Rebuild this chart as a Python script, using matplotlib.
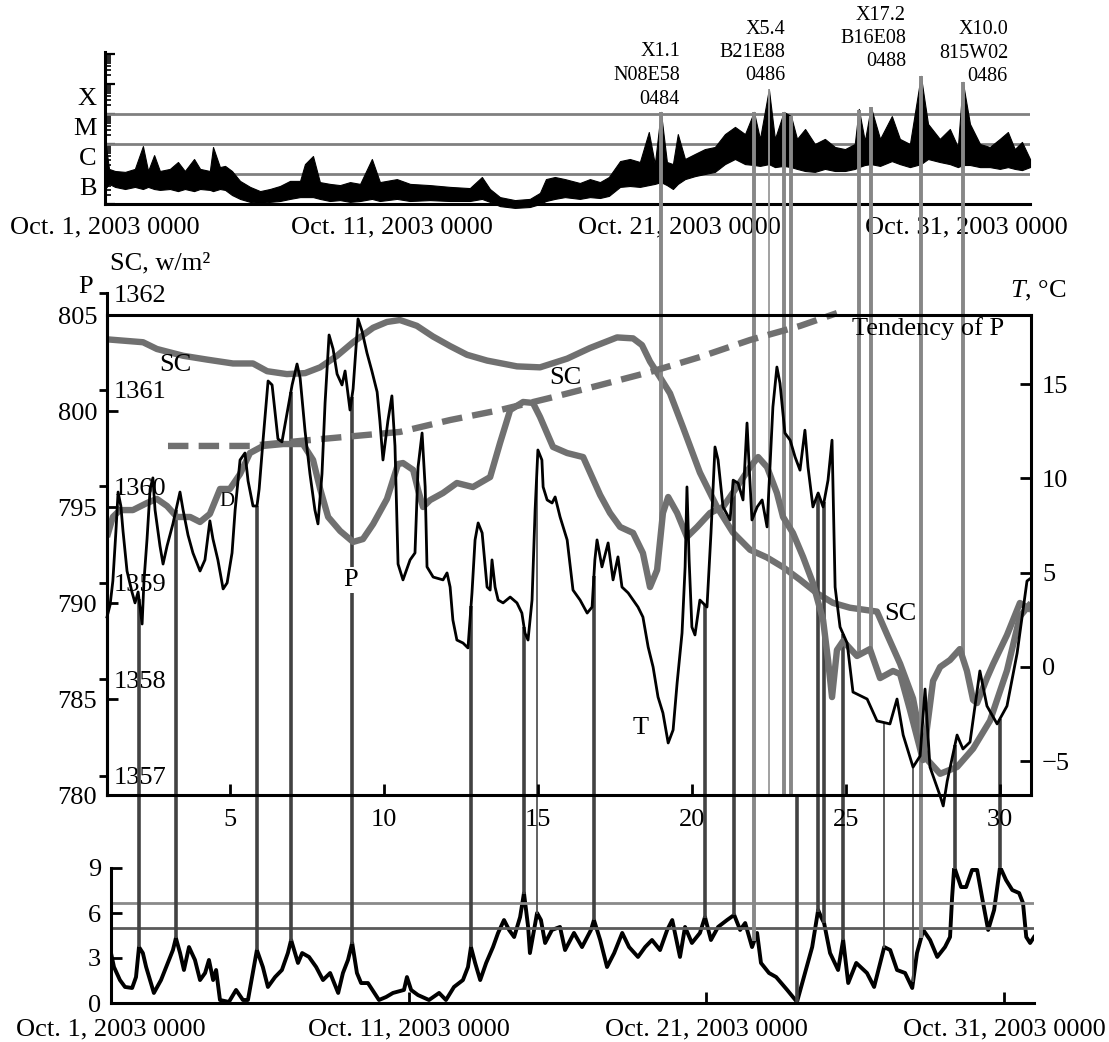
import numpy as np
import matplotlib.pyplot as plt
from matplotlib.lines import Line2D
from matplotlib.ticker import LogLocator, NullFormatter

plt.rcParams['font.family'] = ['Liberation Serif', 'DejaVu Serif']
plt.rcParams['mathtext.fontset'] = 'custom'
plt.rcParams['mathtext.rm'] = 'Liberation Serif'
plt.rcParams['mathtext.it'] = 'Liberation Serif:italic'

# ---- top panel: GOES X-ray flux band (log10 W/m^2), days of October ----
top_day = [1.00, 1.14, 1.35, 1.70, 2.04, 2.32, 2.50, 2.71, 2.91, 3.26,
           3.54, 3.78, 4.10, 4.31, 4.65, 4.76, 5.00, 5.18, 5.42, 5.70,
           6.05, 6.40, 6.74, 7.09, 7.44, 7.79, 7.96, 8.24, 8.48, 8.83,
           9.18, 9.53, 9.88, 10.29, 10.57, 11.16, 11.62, 12.31, 13.01, 13.70,
           14.12, 14.40, 14.75, 15.27, 15.79, 16.14, 16.35, 16.66, 17.01, 17.53,
           17.88, 18.23, 18.54, 18.93, 19.27, 19.62, 19.93, 20.14, 20.35, 20.56,
           20.77, 20.94, 21.19, 21.54, 21.88, 22.23, 22.58, 22.93, 23.28, 23.59,
           23.80, 24.11, 24.32, 24.63, 24.88, 25.09, 25.37, 25.71, 26.06, 26.41,
           26.76, 27.10, 27.24, 27.45, 27.66, 27.98, 28.39, 28.67, 29.02, 29.40,
           29.65, 30.06, 30.41, 30.69, 30.86, 31.11, 31.46, 31.80, 32.15, 32.43,
           32.67, 32.92, 33.20]
top_lo = [-6.50, -6.33, -6.43, -6.50, -6.43, -6.50, -6.43, -6.50, -6.53, -6.50,
          -6.57, -6.50, -6.57, -6.50, -6.53, -6.57, -6.50, -6.53, -6.70, -6.83,
          -6.93, -6.97, -6.93, -6.90, -6.83, -6.77, -6.77, -6.77, -6.83, -6.90,
          -6.87, -6.93, -6.90, -6.83, -6.90, -6.83, -6.90, -6.87, -6.90, -6.90,
          -6.83, -6.93, -7.07, -7.13, -7.10, -7.00, -6.90, -6.83, -6.77, -6.83,
          -6.77, -6.80, -6.73, -6.43, -6.40, -6.43, -6.37, -6.33, -6.27, -6.37,
          -6.50, -6.33, -6.17, -6.07, -6.00, -5.93, -5.67, -5.50, -5.67, -5.70,
          -5.73, -5.67, -5.77, -5.73, -5.77, -5.83, -5.90, -5.93, -5.83, -5.90,
          -5.90, -5.83, -5.77, -5.70, -5.67, -5.73, -5.57, -5.67, -5.77, -5.67,
          -5.50, -5.60, -5.67, -5.77, -5.70, -5.70, -5.77, -5.77, -5.83, -5.77,
          -5.83, -5.87, -5.77]
top_hi = [-4.83, -5.83, -5.90, -5.93, -5.83, -5.07, -5.90, -5.37, -5.90, -5.83,
          -5.60, -5.90, -5.50, -5.83, -5.90, -5.10, -5.77, -5.73, -5.90, -6.23,
          -6.43, -6.57, -6.50, -6.40, -6.23, -6.23, -5.67, -5.40, -6.27, -6.33,
          -6.37, -6.27, -6.33, -5.50, -6.27, -6.17, -6.33, -6.37, -6.43, -6.47,
          -6.10, -6.50, -6.77, -6.87, -6.83, -6.63, -6.17, -6.10, -6.17, -6.30,
          -6.17, -6.27, -6.10, -5.57, -5.50, -5.60, -4.60, -5.67, -3.93, -5.60,
          -5.67, -4.67, -5.50, -5.33, -5.17, -5.10, -4.67, -4.43, -4.67, -3.93,
          -4.83, -3.17, -4.83, -3.93, -4.07, -4.83, -4.50, -5.00, -4.83, -5.10,
          -5.17, -5.00, -3.83, -4.90, -3.77, -4.83, -4.07, -4.83, -5.00, -2.73,
          -4.33, -4.83, -4.50, -5.10, -2.93, -4.33, -5.00, -5.10, -4.83, -4.60,
          -5.17, -4.93, -5.50]
class_levels = [1e-6, 1e-5, 1e-4]
class_names = ['B', 'C', 'M', 'X']
class_mid = [10**-6.5, 10**-5.5, 10**-4.5, 10**-3.5]
date_labels = ['Oct. 1, 2003 0000', 'Oct. 11, 2003 0000',
               'Oct. 21, 2003 0000', 'Oct. 31, 2003 0000']
date_days = [1, 11, 21, 31]

flare_text = [['X1.1', 'N08E58', '0484'], ['X5.4', 'B21E88', '0486'],
              ['X17.2', 'B16E08', '0488'], ['X10.0', '815W02', '0486']]

# ---- middle panel ----
t_day = [1.00, 1.10, 1.19, 1.29, 1.36, 1.45, 1.52, 1.65, 1.81, 1.91,
         2.01, 2.14, 2.20, 2.30, 2.40, 2.49, 2.56, 2.72, 2.82, 2.95,
         3.14, 3.37, 3.47, 3.63, 3.79, 4.02, 4.18, 4.34, 4.44, 4.60,
         4.77, 4.90, 5.06, 5.16, 5.32, 5.48, 5.58, 5.74, 5.87, 5.94,
         6.07, 6.23, 6.36, 6.45, 6.55, 6.68, 6.84, 7.01, 7.17, 7.27,
         7.43, 7.59, 7.75, 7.85, 7.98, 8.08, 8.21, 8.34, 8.47, 8.63,
         8.73, 8.89, 8.99, 9.15, 9.28, 9.44, 9.60, 9.77, 9.86, 9.96,
         10.12, 10.25, 10.35, 10.45, 10.61, 10.84, 11.00, 11.10, 11.23, 11.33,
         11.39, 11.59, 11.91, 12.04, 12.14, 12.23, 12.36, 12.56, 12.72, 12.85,
         12.95, 13.05, 13.18, 13.34, 13.44, 13.50, 13.60, 13.70, 13.86, 14.09,
         14.31, 14.47, 14.57, 14.67, 14.80, 14.90, 14.99, 15.12, 15.16, 15.29,
         15.45, 15.55, 15.71, 15.94, 16.13, 16.36, 16.59, 16.75, 16.84, 16.91,
         17.07, 17.27, 17.43, 17.59, 17.72, 17.92, 18.24, 18.40, 18.57, 18.73,
         18.89, 19.05, 19.22, 19.38, 19.51, 19.67, 19.77, 19.83, 19.90, 19.99,
         20.09, 20.25, 20.48, 20.61, 20.74, 20.84, 21.00, 21.23, 21.33, 21.49,
         21.65, 21.78, 21.85, 21.94, 22.11, 22.27, 22.43, 22.62, 22.75, 22.85,
         23.01, 23.18, 23.34, 23.50, 23.66, 23.76, 23.92, 24.09, 24.25, 24.41,
         24.54, 24.64, 24.80, 25.03, 25.22, 25.68, 26.00, 26.42, 26.65, 26.85,
         27.17, 27.40, 27.56, 27.72, 28.05, 28.15, 28.28, 28.60, 28.79, 29.02,
         29.34, 29.57, 29.90, 30.22, 30.55, 30.87, 31.00]
t_val = [2.65, 3.29, 4.56, 7.21, 9.28, 8.54, 7.21, 5.09, 3.98, 3.40,
         3.98, 2.28, 4.56, 6.79, 9.44, 10.03, 8.33, 6.42, 5.46, 6.42,
         7.59, 9.28, 8.33, 7.00, 6.05, 5.09, 5.68, 7.75, 6.79, 5.68,
         4.14, 4.46, 6.05, 8.33, 10.98, 11.35, 9.87, 8.54, 8.54, 9.44,
         12.10, 15.17, 14.96, 13.63, 12.10, 11.94, 13.42, 14.96, 16.07, 15.33,
         12.52, 10.24, 8.33, 7.59, 10.24, 14.00, 17.61, 16.87, 15.54, 14.96,
         15.70, 13.63, 14.75, 18.46, 17.82, 16.66, 15.70, 14.59, 13.05, 10.98,
         13.05, 14.38, 11.72, 5.46, 4.62, 5.68, 6.05, 10.61, 12.41, 9.55,
         5.31, 4.77, 4.62, 4.99, 4.24, 2.49, 1.43, 1.27, 1.01, 3.93,
         6.74, 7.64, 7.11, 4.24, 4.08, 5.68, 4.24, 3.55, 3.40, 3.71,
         3.40, 2.86, 1.80, 1.43, 3.55, 8.33, 11.51, 10.98, 9.55, 8.86,
         8.70, 9.02, 7.96, 6.74, 4.08, 3.55, 2.86, 3.18, 5.68, 6.74,
         5.31, 6.58, 4.62, 5.84, 4.24, 3.93, 3.18, 2.65, 1.06, 0.00,
         -1.59, -2.44, -4.03, -3.34, -0.85, 1.80, 5.31, 9.55, 5.68, 2.12,
         1.70, 3.55, 3.18, 7.11, 11.67, 10.98, 8.49, 7.80, 9.91, 9.75,
         8.86, 12.94, 10.61, 7.80, 8.49, 8.86, 7.43, 13.79, 15.91, 15.05,
         12.41, 12.03, 11.14, 10.44, 12.56, 10.61, 8.49, 9.23, 8.49, 9.91,
         12.03, 4.24, 2.12, 1.27, -1.33, -1.70, -2.86, -3.02, -1.70, -3.61,
         -5.31, -4.72, -1.17, -5.31, -6.84, -7.37, -6.05, -3.61, -4.35, -3.98,
         -0.21, -2.07, -3.02, -2.07, 0.74, 4.56, 4.72]

p_day = [1.00, 1.19, 1.42, 1.84, 2.30, 2.62, 2.95, 3.27, 3.70, 4.02,
         4.34, 4.67, 4.99, 5.32, 5.64, 6.07, 6.72, 7.36, 7.69, 7.92,
         8.18, 8.57, 8.99, 9.31, 9.64, 10.09, 10.45, 10.61, 10.94, 11.10,
         11.26, 11.49, 11.91, 12.36, 12.88, 13.44, 13.76, 14.09, 14.51, 14.83,
         15.06, 15.48, 15.94, 16.46, 17.01, 17.33, 17.66, 18.08, 18.40, 18.63,
         18.86, 19.05, 19.22, 19.51, 19.83, 20.16, 20.58, 21.00, 21.45, 21.88,
         22.14, 22.43, 22.75, 22.95, 23.27, 23.60, 23.92, 24.25, 24.41, 24.54,
         24.70, 24.90, 25.35, 25.77, 26.10, 26.52, 26.75, 27.07, 27.40, 27.49,
         27.82, 28.05, 28.37, 28.69, 28.92, 29.12, 29.25, 29.57, 29.77, 30.22,
         30.64, 31.00]
p_val = [793.44, 794.48, 794.84, 794.84, 795.21, 795.42, 795.05, 794.48, 794.48, 794.22,
         794.64, 795.94, 795.94, 796.72, 797.81, 798.18, 798.28, 798.28, 797.45, 795.94,
         794.48, 793.75, 793.18, 793.33, 794.11, 795.42, 797.24, 797.29, 796.93, 795.89,
         795.00, 795.36, 795.73, 796.25, 796.04, 796.56, 798.33, 800.05, 800.47, 800.42,
         799.69, 798.13, 797.81, 797.60, 795.63, 794.69, 793.96, 793.65, 792.60, 790.83,
         791.72, 794.69, 795.52, 794.69, 793.44, 793.96, 794.69, 795.00, 796.04, 797.08,
         797.60, 797.08, 795.73, 794.48, 793.65, 792.40, 791.04, 789.11, 787.03, 785.10,
         787.55, 788.02, 787.24, 787.60, 786.09, 786.46, 786.30, 784.43, 782.40, 781.82,
         785.94, 786.67, 787.03, 787.60, 786.46, 784.95, 784.79, 786.09, 786.82, 788.33,
         790.00, 789.64]

sc_day = [1.00, 2.17, 2.62, 3.47, 4.25, 5.09, 5.74, 6.20, 6.84, 7.43,
          7.92, 8.47, 8.99, 9.64, 10.09, 10.51, 11.06, 11.58, 12.14, 12.69,
          13.34, 14.31, 15.06, 15.94, 16.68, 17.56, 18.08, 18.37, 18.63, 18.95,
          19.28, 19.70, 20.25, 20.81, 21.32, 21.88, 22.43, 22.95, 23.50, 24.05,
          24.57, 25.12, 26.00, 26.33, 26.75, 27.17, 27.40, 27.62, 28.05, 28.60,
          29.12, 29.67, 30.22, 30.64, 31.00]
sc_val = [1361.52, 1361.49, 1361.42, 1361.35, 1361.31, 1361.27, 1361.27, 1361.19, 1361.16, 1361.17,
          1361.23, 1361.35, 1361.49, 1361.64, 1361.70, 1361.72, 1361.66, 1361.55, 1361.45, 1361.36,
          1361.30, 1361.24, 1361.23, 1361.32, 1361.43, 1361.54, 1361.53, 1361.46, 1361.29, 1361.13,
          1360.96, 1360.61, 1360.14, 1359.78, 1359.52, 1359.34, 1359.26, 1359.16, 1359.03, 1358.89,
          1358.79, 1358.74, 1358.70, 1358.46, 1358.16, 1357.80, 1357.42, 1357.17, 1357.02, 1357.09,
          1357.28, 1357.57, 1358.09, 1358.65, 1358.79]

tend_day = [2.98, 5.64, 7.27, 10.51, 12.14, 13.76, 15.38, 17.01, 18.63, 20.25, 21.88, 23.50, 24.70]
tend_val = [798.18, 798.18, 798.44, 798.91, 799.53, 800.05, 800.68, 801.35, 802.03, 802.81,
            803.70, 804.43, 805.10]

# ---- bottom panel ----
k_day = [1.00, 1.10, 1.30, 1.47, 1.71, 1.84, 1.94, 2.07, 2.18, 2.44,
         2.68, 2.91, 3.08, 3.18, 3.32, 3.45, 3.62, 3.82, 3.99, 4.16,
         4.29, 4.43, 4.53, 4.66, 4.96, 5.20, 5.43, 5.60, 5.80, 5.90,
         6.10, 6.27, 6.51, 6.74, 6.94, 7.05, 7.18, 7.28, 7.42, 7.65,
         7.89, 8.12, 8.36, 8.63, 8.79, 8.96, 9.10, 9.26, 9.40, 9.63,
         10.00, 10.24, 10.47, 10.84, 10.94, 11.08, 11.31, 11.68, 12.02, 12.25,
         12.52, 12.82, 12.99, 13.09, 13.23, 13.40, 13.60, 13.83, 14.00, 14.20,
         14.37, 14.54, 14.74, 14.87, 15.01, 15.07, 15.31, 15.44, 15.58, 15.81,
         16.08, 16.25, 16.55, 16.82, 17.12, 17.22, 17.43, 17.66, 17.90, 18.17,
         18.40, 18.70, 18.94, 19.17, 19.44, 19.68, 19.85, 20.11, 20.28, 20.51,
         20.78, 20.95, 21.15, 21.39, 21.69, 21.93, 22.13, 22.30, 22.53, 22.70,
         22.83, 23.10, 23.34, 23.71, 24.04, 24.31, 24.55, 24.75, 24.85, 24.95,
         25.15, 25.42, 25.59, 25.76, 26.03, 26.39, 26.63, 26.97, 27.17, 27.40,
         27.67, 27.91, 28.07, 28.28, 28.51, 28.75, 29.01, 29.18, 29.25, 29.32,
         29.55, 29.72, 29.92, 30.09, 30.29, 30.46, 30.66, 30.86, 31.06, 31.27,
         31.50, 31.63, 31.74, 31.87, 32.00]
k_val = [3.33, 2.40, 1.53, 1.07, 1.00, 1.73, 3.73, 3.33, 2.40, 0.67,
         1.53, 2.67, 3.53, 4.33, 3.33, 2.20, 3.73, 2.87, 1.53, 2.00,
         2.87, 1.53, 2.20, 0.20, 0.07, 0.87, 0.20, 0.20, 2.40, 3.53,
         2.40, 1.07, 1.73, 2.20, 3.33, 4.20, 3.33, 2.67, 3.33, 3.07,
         2.40, 1.53, 2.00, 0.67, 2.00, 2.87, 4.00, 2.00, 1.33, 1.33,
         0.20, 0.40, 0.67, 0.87, 1.73, 0.87, 0.53, 0.20, 0.67, 0.20,
         1.07, 1.53, 2.40, 3.73, 2.67, 1.53, 2.67, 3.73, 4.67, 5.53,
         4.87, 4.40, 5.73, 7.33, 5.07, 3.33, 6.00, 5.53, 4.00, 4.87,
         5.07, 3.53, 4.67, 3.73, 4.87, 5.53, 4.20, 2.40, 3.33, 4.67,
         3.73, 3.07, 3.73, 4.20, 3.53, 4.87, 5.53, 3.07, 5.07, 4.00,
         4.67, 5.73, 4.20, 5.07, 5.53, 5.87, 4.87, 5.33, 3.73, 4.67,
         2.67, 2.00, 1.73, 0.87, 0.07, 2.00, 3.73, 6.20, 5.73, 5.33,
         3.33, 2.20, 4.20, 1.33, 2.67, 2.00, 1.07, 3.73, 3.53, 2.20,
         2.00, 1.00, 3.33, 4.87, 4.20, 3.07, 3.73, 4.40, 7.07, 9.07,
         7.73, 7.73, 8.87, 8.87, 6.67, 4.87, 6.20, 9.07, 8.20, 7.53,
         7.33, 6.67, 4.40, 4.00, 4.40]
k_levels = [6.7, 5.0]

# ---- event lines (middle panel days) and the curves they join ----
ev_day = [2.04, 3.24, 5.87, 6.97, 8.95, 12.82, 14.54, 14.96, 16.81, 18.99,
          20.42, 21.36, 22.01, 22.49, 22.98, 23.21, 23.40, 24.08, 24.28, 24.90,
          25.42, 25.81, 26.23, 27.17, 27.43, 28.53, 28.79, 29.99]
ev_from = ['T', 'T', 'T', 'T', 'T', 'T', 'T', 'T', 'T', 'flux',
           'T', 'T', 'flux', 'flux', 'flux', 'flux', 'axis', 'T', 'T', 'T',
           'flux', 'flux', 'T', 'T', 'flux', 'T', 'flux', 'T']
ev_to = ['K', 'K', 'K', 'K', 'K', 'K', 'K', 'K', 'K', 'P',
         'K', 'K', 'K', 'axis', 'axis', 'axis', 'K', 'K', 'K', 'K',
         'P', 'P', 'K', 'K', 'K', 'K', 'P', 'K']
ev_kind = ['dark', 'dark', 'dark', 'dark', 'dark', 'dark', 'dark', 'thin', 'dark', 'light',
           'dark', 'dark', 'light', 'thinlight', 'light', 'light', 'dark', 'dark', 'dark', 'dark',
           'light', 'light', 'thin', 'thin', 'light', 'dark', 'light', 'dark']
ev_style = {'dark': ('#424242', 2.6), 'thin': ('#555555', 1.3),
            'light': ('#878787', 2.8), 'thinlight': ('#9a9a9a', 1.3)}

W, H = 1109, 1042
fig = plt.figure(figsize=(W / 100, H / 100), dpi=100, facecolor='white')


def box(l, t, r, b):
    return [l / W, 1 - b / H, (r - l) / W, (b - t) / H]


FS = 19
GRAY = '#707070'

# ---------------- top panel ----------------
ax_top = fig.add_axes(box(105, 52, 1030, 204))
ax_top.set_yscale('log')
ax_top.set_xlim(1, 33.2)
ax_top.set_ylim(1e-7, 10 ** (-7 + 152 / 30))
ax_top.fill_between(top_day, 10 ** np.array(top_lo), 10 ** np.array(top_hi),
                    color='black', lw=0.8, clip_on=False, zorder=3)
for lev in class_levels:
    ax_top.axhline(lev, color='#808080', lw=2.0, zorder=2)
for name, mid in zip(class_names, class_mid):
    ax_top.text(-0.009, mid, name, transform=ax_top.get_yaxis_transform(),
                ha='right', va='center', fontsize=FS)
for s in ['top', 'right']:
    ax_top.spines[s].set_visible(False)
for s in ['left', 'bottom']:
    ax_top.spines[s].set_linewidth(2.2)
ax_top.yaxis.set_major_locator(LogLocator(base=10, numticks=50))
ax_top.yaxis.set_minor_locator(LogLocator(base=10, subs=np.arange(2, 10), numticks=50))
ax_top.yaxis.set_major_formatter(NullFormatter())
ax_top.yaxis.set_minor_formatter(NullFormatter())
ax_top.tick_params(axis='y', which='major', direction='in', length=7, width=1.6)
ax_top.tick_params(axis='y', which='minor', direction='in', length=4, width=1.2)
ax_top.set_xticks(date_days)
ax_top.set_xticklabels(date_labels)
ax_top.tick_params(axis='x', length=0, pad=9, labelsize=FS)
ax_top.patch.set_visible(False)

# ---------------- middle panel ----------------
ax_sc = fig.add_axes(box(107, 293, 1031, 795))
ax_p = fig.add_axes(box(107, 315, 1031, 795))
ax_t = ax_p.twinx()
ax_sc.set_zorder(1)
ax_p.set_zorder(2)
ax_t.set_zorder(3)
for a in (ax_sc, ax_p, ax_t):
    a.patch.set_visible(False)

ax_p.set_xlim(1, 31)
ax_sc.set_xlim(1, 31)
ax_p.set_ylim(780, 805)
ax_t.set_ylim(-6.79, 18.67)
ax_sc.set_ylim(1356.80, 1362.0)

ax_sc.plot(sc_day, sc_val, color=GRAY, lw=4.6, solid_capstyle='butt')
ax_p.plot(p_day, p_val, color=GRAY, lw=4.6, solid_capstyle='butt')
tend, = ax_p.plot(tend_day, tend_val, color=GRAY, lw=4.6, clip_on=False)
tend.set_dashes((3.2, 1.6))
ax_t.plot(t_day, t_val, color='black', lw=2.0, clip_on=False)

for s in ax_p.spines.values():
    s.set_linewidth(2.2)
for s in ax_t.spines.values():
    s.set_visible(False)
for s in ['top', 'right', 'bottom']:
    ax_sc.spines[s].set_visible(False)
ax_sc.spines['left'].set_linewidth(2.2)

ax_p.set_xticks([5, 10, 15, 20, 25, 30])
ax_p.tick_params(axis='x', direction='in', length=8, width=2, pad=10, labelsize=FS)
ax_p.set_yticks([780, 785, 790, 795, 800, 805])
ax_p.tick_params(axis='y', direction='in', length=8, width=2, pad=7, labelsize=FS)
ax_t.set_yticks([-5, 0, 5, 10, 15])
ax_t.tick_params(axis='y', direction='in', length=8, width=2, pad=8, labelsize=FS)
ax_sc.set_xticks([])
ax_sc.set_yticks([1357, 1358, 1359, 1360, 1361, 1362])
ax_sc.tick_params(axis='y', direction='out', length=6, width=2, pad=-11, labelsize=FS)
for lab in ax_sc.get_yticklabels():
    lab.set_horizontalalignment('left')

ax_p.text(3.21, 802.4, 'SC', ha='center', va='center', fontsize=FS)
ax_p.text(15.87, 801.72, 'SC', ha='center', va='center', fontsize=FS)
ax_p.text(26.75, 789.43, 'SC', ha='center', va='center', fontsize=FS)
ax_p.text(18.34, 783.49, 'T', ha='center', va='center', fontsize=FS)
ax_p.text(4.90, 795.31, 'D', ha='center', va='center', fontsize=15, zorder=1)
ax_p.text(27.66, 804.32, 'Tendency of P', ha='center', va='center', fontsize=FS)
fig.text(8.92, 791.2, 'P', transform=ax_p.transData, ha='center', va='center',
         fontsize=FS, zorder=5, bbox=dict(fc='white', ec='none', pad=1.5))

fig.text(110 / W, 1 - 263 / H, 'SC, w/m²', ha='left', va='center', fontsize=FS)
fig.text(86 / W, 1 - 287 / H, 'P', ha='center', va='center', fontsize=FS)
fig.text(1038 / W, 1 - 291 / H, '$T$, °C', ha='center', va='center', fontsize=FS)

# ---------------- bottom panel ----------------
ax_k = fig.add_axes(box(111, 868, 1034, 1003))
ax_k.set_xlim(1, 32.0)
ax_k.set_ylim(0, 9)
ax_k.plot(k_day, k_val, color='black', lw=2.8)
ax_k.axhline(k_levels[0], color='#8a8a8a', lw=2.0)
ax_k.axhline(k_levels[1], color='#5a5a5a', lw=2.0)
for s in ['top', 'right']:
    ax_k.spines[s].set_visible(False)
for s in ['left', 'bottom']:
    ax_k.spines[s].set_linewidth(2.2)
ax_k.set_yticks([0, 3, 6, 9])
ax_k.tick_params(axis='y', direction='in', length=8, width=2, pad=7, labelsize=FS)
ax_k.set_xticks(date_days)
ax_k.set_xticklabels(date_labels)
ax_k.tick_params(axis='x', direction='in', length=8, width=2, pad=11, labelsize=FS)
ax_k.patch.set_visible(False)

# ---------------- flare annotations ----------------
flare_right = [680, 785, 906, 1008]
flare_top = [52, 29, 15, 30]
for lines, xr, yt in zip(flare_text, flare_right, flare_top):
    for i, s in enumerate(lines):
        fig.text(xr / W, 1 - (yt + 23.5 * i) / H, s, ha='right', va='center', fontsize=14.5)

# ---------------- connecting event lines ----------------
inv = fig.transFigure.inverted()


def anchor_y(kind, xd):
    if kind == 'axis':
        return ax_p.transAxes.transform((0, 0))[1]
    if kind == 'T':
        ax, xs, ys = ax_t, t_day, t_val
    elif kind == 'P':
        ax, xs, ys = ax_p, p_day, p_val
    elif kind == 'K':
        ax, xs, ys = ax_k, k_day, k_val
    else:
        ax, xs, ys = ax_top, top_day, 10 ** np.array(top_hi)
    d = ax.transData.inverted().transform((xd, 0))[0]
    return ax.transData.transform((d, np.interp(d, xs, ys)))[1]


for d, a, b, kind in zip(ev_day, ev_from, ev_to, ev_kind):
    xd = ax_p.transData.transform((d, 0))[0]
    pts = inv.transform([(xd, anchor_y(a, xd)), (xd, anchor_y(b, xd))])
    col, lw = ev_style[kind]
    fig.add_artist(Line2D(pts[:, 0], pts[:, 1], transform=fig.transFigure,
                          color=col, lw=lw, solid_capstyle='butt', zorder=2))

fig.savefig('out.png', dpi=100, facecolor='white')
